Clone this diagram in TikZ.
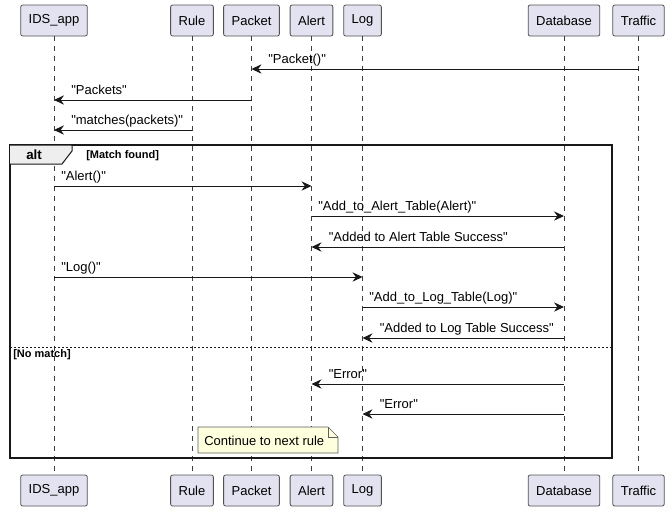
\documentclass[tikz,border=0pt]{standalone}
\usepackage{fontspec}
\setmainfont[Ligatures=TeXOff]{Liberation Sans}
\usetikzlibrary{arrows.meta}
\definecolor{umlpart}{HTML}{E2E2F0}
\definecolor{umlline}{HTML}{181818}
\definecolor{umlnote}{HTML}{FEFFDD}
\definecolor{umltab}{HTML}{EEEEEE}

\begin{document}
\begin{tikzpicture}[x=0.75pt,y=-0.75pt,font=\fontsize{9.75}{11}\selectfont,
  part/.style={draw=umlline!75,fill=umlpart,rounded corners=1.5pt,minimum height=23.25pt,inner xsep=6pt,line width=0.6pt},
  lifeline/.style={draw=umlline!85,dash pattern=on 3.75pt off 3.75pt,line width=0.5pt},
  msg/.style={-{Stealth[length=7.5pt,width=7pt,inset=2.5pt]},line width=0.75pt,draw=umlline},
  lbl/.style={anchor=base west,inner sep=0pt},
  grd/.style={anchor=base west,inner sep=0pt,font=\fontsize{8.25}{10}\selectfont\bfseries}]
\useasboundingbox (0,0) rectangle (670,511);
% participants, top and bottom, with lifelines
\foreach \nm/\txt/\x in {ids/IDS\_app/54,rule/Rule/192,packet/Packet/251.5,alert/Alert/311.5,
    log/Log/362.5,db/Database/564,traffic/Traffic/638.5}{
  \node[part] (\nm T) at (\x,20.5) {\txt};
  \node[part] (\nm B) at (\x,490.5) {\txt};
  \draw[lifeline] (\nm T) -- (\nm B);
}
% message rows
\foreach \r/\y in {1/69,2/100,3/130,4/186,5/216,6/247,7/277,8/307,9/338,10/384,11/414}{
  \coordinate (m\r) at (0,\y);
}
% alt frame
\draw[line width=1.2pt,draw=umlline] (10,145) rectangle (612,458);
\draw[fill=umltab,draw=umlline,line width=0.75pt] (10,145) -- (72,145) -- (72,151) -- (62,164) -- (10,164);
\node[anchor=base west,inner sep=0pt,font=\bfseries] (altlbl) at (26,159) {alt};
\node[grd] (g1) at (86,158) {[Match found]};
\draw[draw=umlline,dash pattern=on 1.5pt off 1.5pt,line width=0.5pt] (10,347) -- (612,347);
\node[grd] (g2) at (13,357) {[No match]};
% messages
\draw[msg] (trafficT |- m1) -- (packetT |- m1);
\node[lbl] (l1) at (268,63) {"Packet()"};
\draw[msg] (packetT |- m2) -- (idsT |- m2);
\node[lbl] (l2) at (71,94) {"Packets"};
\draw[msg] (ruleT |- m3) -- (idsT |- m3);
\node[lbl] (l3) at (71,124) {"matches(packets)"};
\draw[msg] (idsT |- m4) -- (alertT |- m4);
\node[lbl] (l4) at (61,180) {"Alert()"};
\draw[msg] (alertT |- m5) -- (dbT |- m5);
\node[lbl] (l5) at (318,210) {"Add\_to\_Alert\_Table(Alert)"};
\draw[msg] (dbT |- m6) -- (alertT |- m6);
\node[lbl] (l6) at (328.5,241) {"Added to Alert Table Success"};
\draw[msg] (idsT |- m7) -- (logT |- m7);
\node[lbl] (l7) at (61,271) {"Log()"};
\draw[msg] (logT |- m8) -- (dbT |- m8);
\node[lbl] (l8) at (369,301) {"Add\_to\_Log\_Table(Log)"};
\draw[msg] (dbT |- m9) -- (logT |- m9);
\node[lbl] (l9) at (379.5,332) {"Added to Log Table Success"};
\draw[msg] (dbT |- m10) -- (alertT |- m10);
\node[lbl] (l10) at (328.5,378) {"Error"};
\draw[msg] (dbT |- m11) -- (logT |- m11);
\node[lbl] (l11) at (379.5,408) {"Error"};
% note
\draw[fill=umlnote,draw=umlline!70,line width=0.5pt] (198,427) -- (328,427) -- (338,437) -- (338,453) -- (198,453) -- cycle;
\draw[draw=umlline!70,line width=0.5pt] (328,427) -- (328,437) -- (338,437);
\node[lbl] (note) at (204,445) {Continue to next rule};
\end{tikzpicture}
\end{document}
